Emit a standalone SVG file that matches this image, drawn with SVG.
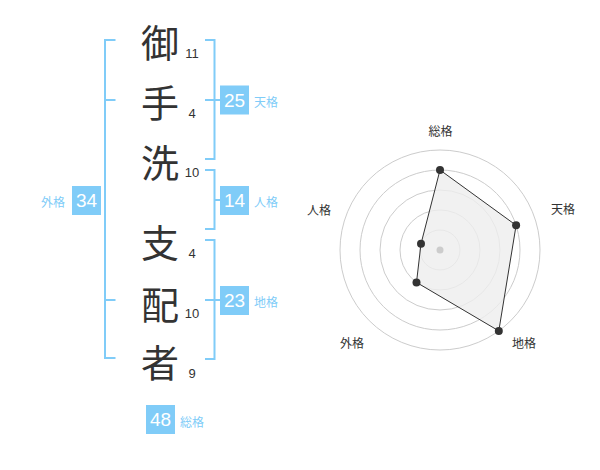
<svg xmlns="http://www.w3.org/2000/svg" width="600" height="470" viewBox="0 0 600 470">
<style>
.ch{font-family:"Noto Sans CJK JP","Noto Sans CJK SC",sans-serif;font-size:38px;fill:#333;text-anchor:middle;dominant-baseline:central}
.num{font-family:"Liberation Sans",Arial,sans-serif;font-size:13px;fill:#333;text-anchor:middle}
.br{fill:none;stroke:#80ccf8;stroke-width:2}
.box{fill:#80ccf8}
.bt{font-family:"Liberation Sans",Arial,sans-serif;font-size:19px;fill:#fff;text-anchor:middle;dominant-baseline:central}
.lb{font-family:"Noto Sans CJK JP","Noto Sans CJK SC",sans-serif;font-size:12px;fill:#80ccf8;dominant-baseline:central}
.ring{fill:none;stroke:#cccccc;stroke-width:1}
.ax{font-family:"Noto Sans CJK JP","Noto Sans CJK SC",sans-serif;font-size:12px;fill:#333;text-anchor:middle;dominant-baseline:central}
.pt{fill:#333}
</style>
<rect width="600" height="470" fill="#fff"/>
<g id="connectors">
<path class="br" d="M115.5,40 H105 V358 H115.5 M105,100 H115.5 M105,300 H115.5"/>
<path class="br" d="M205,40 H214.5 V159 H205 M205,100 H220"/>
<path class="br" d="M205,170 H214.5 V229 H205 M214.5,200 H220"/>
<path class="br" d="M205,240 H214.5 V359 H205 M205,300 H220"/>
</g>
<g id="name">
<g id="c1"><text class="ch" x="160" y="40">御</text><text class="num" x="192" y="58">11</text></g>
<g id="c2"><text class="ch" x="160" y="100">手</text><text class="num" x="192" y="118">4</text></g>
<g id="c3"><text class="ch" x="160" y="160">洗</text><text class="num" x="192" y="177">10</text></g>
<g id="c4"><text class="ch" x="160" y="240">支</text><text class="num" x="192" y="258">4</text></g>
<g id="c5"><text class="ch" x="160" y="302">配</text><text class="num" x="192" y="318">10</text></g>
<g id="c6"><text class="ch" x="160" y="360">者</text><text class="num" x="192" y="378">9</text></g>
</g>
<g id="tenkaku"><rect class="box" x="220" y="85.5" width="29" height="29"/><text class="bt" x="234.5" y="100.5">25</text><text class="lb" x="254" y="101">天格</text></g>
<g id="jinkaku"><rect class="box" x="220" y="186" width="29" height="29"/><text class="bt" x="234.5" y="200.5">14</text><text class="lb" x="254" y="201">人格</text></g>
<g id="chikaku"><rect class="box" x="220" y="286" width="29" height="29"/><text class="bt" x="234.5" y="300.5">23</text><text class="lb" x="254" y="301">地格</text></g>
<g id="gaikaku"><rect class="box" x="72" y="186" width="29" height="29"/><text class="bt" x="86.5" y="200.5">34</text><text class="lb" x="41" y="201">外格</text></g>
<g id="soukaku"><rect class="box" x="146" y="405" width="29" height="29"/><text class="bt" x="160.5" y="419.5">48</text><text class="lb" x="180" y="421">総格</text></g>
<g id="radar">
<circle class="ring" cx="440" cy="250" r="20"/>
<circle class="ring" cx="440" cy="250" r="40"/>
<circle class="ring" cx="440" cy="250" r="60"/>
<circle class="ring" cx="440" cy="250" r="80"/>
<circle class="ring" cx="440" cy="250" r="100"/>
<polygon points="440,170 516.1,225.3 498.8,330.9 416.5,282.4 421,243.8" fill="#eeeeee" fill-opacity="0.8" stroke="#333" stroke-width="1"/>
<circle cx="440" cy="250" r="3.5" fill="#cccccc"/>
<circle class="pt" cx="440" cy="170" r="4"/>
<circle class="pt" cx="516.1" cy="225.3" r="4"/>
<circle class="pt" cx="498.8" cy="330.9" r="4"/>
<circle class="pt" cx="416.5" cy="282.4" r="4"/>
<circle class="pt" cx="421" cy="243.8" r="4"/>
<text class="ax" x="440.5" y="130">総格</text>
<text class="ax" x="563" y="208">天格</text>
<text class="ax" x="524" y="342">地格</text>
<text class="ax" x="352" y="342">外格</text>
<text class="ax" x="319" y="209">人格</text>
</g>
</svg>
